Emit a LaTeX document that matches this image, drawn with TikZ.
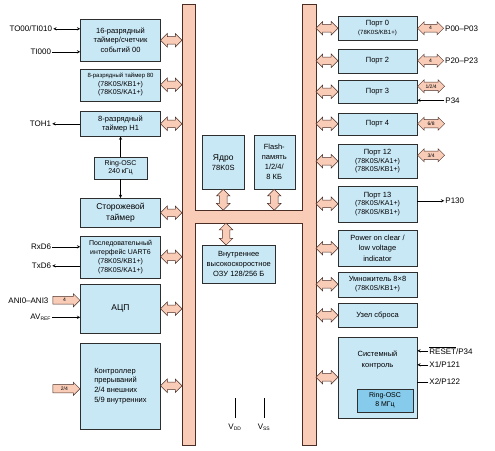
\documentclass[tikz,border=0pt]{standalone}
\usepackage{fontspec}
\setmainfont{Liberation Sans}
\usepackage{xcolor}
\usepackage{tikz}
\usetikzlibrary{shapes.arrows, arrows, positioning, calc}

\definecolor{boxblue}{HTML}{C9E8F6}
\definecolor{oscblue}{HTML}{86CBEB}
\definecolor{busrose}{HTML}{F9CCB7}
\definecolor{busedge}{HTML}{4A2E26}
\definecolor{edge}{HTML}{2E2E2E}

\newcommand{\fs}[2]{\fontsize{#1}{#2}\selectfont}

\begin{document}
\begin{tikzpicture}[
    x=1pt, y=-1pt,
    box/.style={rectangle, draw=edge, fill=boxblue, line width=0.5pt, minimum width=80pt, align=center, inner sep=1pt, font=\fs{7}{8.5}},
    port/.style={box, minimum width=79pt},
    bus/.style={rectangle, fill=busrose, inner sep=0pt},
    busarrow/.style={double arrow, draw=busedge, fill=busrose, line width=0.5pt, double arrow head extend=3pt, minimum height=21.5pt, inner xsep=0pt, inner ysep=3.5pt},
    fatarrow/.style={busarrow, double arrow head extend=2.5pt, inner ysep=2pt, minimum height=27pt, font=\fs{5}{5}},
    fatsingle/.style={single arrow, draw=busedge, fill=busrose, line width=0.5pt, single arrow head extend=2.5pt, minimum height=27pt, inner xsep=0pt, inner ysep=2pt, font=\fs{5}{5}},
    arrow/.style={->, >=stealth, line width=0.5pt},
    sig/.style={font=\fs{8}{9}, inner sep=1pt},
]
\useasboundingbox (0,0) rectangle (495,450);

% Bus
\node[bus, minimum width=13pt, minimum height=441pt] (lbus) at (188.5,224.5) {};
\node[bus, minimum width=14pt, minimum height=441pt] (rbus) at (309,224.5) {};
\node[bus, minimum width=108pt, minimum height=13pt] (hbus) at (248.5,216.5) {};
\draw[busedge, line width=0.6pt] (lbus.north west) -- (lbus.north east) -- (lbus.east |- hbus.north)
    -- (rbus.west |- hbus.north) -- (rbus.north west) -- (rbus.north east) -- (rbus.south east)
    -- (rbus.south west) -- (rbus.west |- hbus.south) -- (lbus.east |- hbus.south)
    -- (lbus.south east) -- (lbus.south west) -- cycle;

% Left column
\node[box, minimum height=42pt, font=\fs{7.5}{9.5}, anchor=north] (t00) at (120.5,19) {16-разрядный\\таймер/счетчик\\событий 00};
\node[box, minimum height=32pt, below=7pt of t00] (t80) {{\fs{6}{8}8-разрядный таймер 80}\\(78K0S/KB1+)\\(78K0S/KA1+)};
\node[box, minimum height=25pt, font=\fs{7.5}{9.5}, below=10pt of t80] (th1) {8-разрядный\\таймер H1};
\node[box, minimum width=53pt, minimum height=22pt, below=20pt of th1] (rosc1) {Ring-OSC\\240 кГц};
\node[box, minimum height=29pt, font=\fs{8.5}{11}, below=19pt of rosc1] (wdt) {Сторожевой\\таймер};
\node[box, minimum height=42pt, font=\fs{7}{9}, below=8pt of wdt] (uart) {Последовательный\\интерфейс UART6\\(78K0S/KB1+)\\(78K0S/KA1+)};
\node[box, minimum height=49pt, font=\fs{8.5}{10}, below=6pt of uart] (adc) {АЦП};
\node[box, minimum height=86pt, font=\fs{7.5}{9.7}, align=left, below=9pt of adc] (intc) {Контроллер\\прерываний\\2/4 внешних\\5/9 внутренних};

% Core, Flash, RAM
\node[box, minimum width=42pt, minimum height=54pt, font=\fs{7.5}{10}, anchor=north west] (core) at (202,135) {{\fs{8.5}{10}Ядро}\\78K0S};
\node[box, minimum width=41pt, minimum height=54pt, font=\fs{7.5}{10}, right=9pt of core] (flash) {Flash-\\память\\1/2/4/\\8 КБ};
\node[box, minimum width=73pt, minimum height=38pt, font=\fs{7.5}{10}, anchor=north west] (ram) at (202,245) {Внутреннее\\высокоскоростное\\ОЗУ 128/256 Б};

% Right column
\node[port, minimum height=24pt, font=\fs{7.5}{9}, anchor=north] (p0) at (377.5,16) {Порт 0\\{\fs{6}{7}(78K0S/KB1+)}};
\node[port, minimum height=24pt, font=\fs{7.5}{9}, below=8pt of p0] (p2) {Порт 2};
\node[port, minimum height=23pt, font=\fs{7.5}{9}, below=7pt of p2] (p3) {Порт 3};
\node[port, minimum height=22pt, font=\fs{7.5}{9}, below=9pt of p3] (p4) {Порт 4};
\node[port, minimum height=34pt, below=9pt of p4] (p12) {{\fs{7.5}{9}Порт 12}\\(78K0S/KA1+)\\(78K0S/KB1+)};
\node[port, minimum height=36pt, below=7pt of p12] (p13) {{\fs{7.5}{9}Порт 13}\\(78K0S/KA1+)\\(78K0S/KB1+)};
\node[port, minimum height=36pt, font=\fs{7.5}{10.5}, below=8pt of p13] (poc) {Power on clear /\\low voltage\\indicator};
\node[port, minimum height=25pt, font=\fs{7}{8.5}, below=5pt of poc] (mul) {{\fs{7.5}{9}Умножитель 8×8}\\(78K0S/KB1+)};
\node[port, minimum height=24pt, font=\fs{7.5}{9}, below=6pt of mul] (rst) {Узел сброса};
\node[port, minimum height=81pt, below=9pt of rst] (sys) {};
\node[font=\fs{7.5}{11}, align=center] (systext) at ($(sys.north)+(0,23)$) {Системный\\контроль};
\node[box, fill=oscblue, minimum width=56pt, minimum height=23pt, anchor=south east] (osc8) at ($(sys.south east)+(-4,-6)$) {Ring-OSC\\8 МГц};

% Bus arrows
\foreach \n in {t00,t80,th1,wdt,uart,adc,intc}
    \node[busarrow] at ($(\n.east)!0.5!(\n.east -| lbus.west)$) {};
\foreach \n in {p0,p2,p3,p4,p12,p13,poc,mul,rst,sys}
    \node[busarrow, minimum height=22pt] at ($(\n.west)!0.5!(\n.west -| rbus.east)$) {};
\node[busarrow, rotate=90, minimum height=21pt] at ($(core.south)!0.5!(core.south |- hbus.north)$) {};
\node[busarrow, rotate=90, minimum height=21pt] at ($(flash.south)!0.5!(flash.south |- hbus.north)$) {};
\coordinate (ramtop) at ($(ram.north west)+(24,0)$);
\node[busarrow, rotate=90, minimum height=22pt] at ($(ramtop)!0.5!(ramtop |- hbus.south)$) {};

% Ring-OSC links
\draw[arrow] (rosc1.north) -- (rosc1.north |- th1.south);
\draw[arrow] (rosc1.south) -- (rosc1.south |- wdt.north);

% Left signals
\node[sig, anchor=east] (to00) at ($(t00.west)+(-27,-11.5)$) {TO00/TI010};
\node[sig, anchor=east] (ti000) at ($(t00.west)+(-28,11.5)$) {TI000};
\node[sig, anchor=east] (toh1) at ($(th1.west)+(-28,0)$) {TOH1};
\node[sig, anchor=east] (rxd6) at ($(uart.west)+(-28,-10)$) {RxD6};
\node[sig, anchor=east] (txd6) at ($(uart.west)+(-28,9)$) {TxD6};
\node[fatsingle, anchor=east] (anifat) at ($(adc.west)+(0,-8.5)$) {4};
\node[sig, anchor=east] (ani) at ($(anifat.west)+(-3,0)$) {ANI0–ANI3};
\node[sig, anchor=east] (avref) at ($(adc.west)+(-28,8.5)$) {AV\textsubscript{\fs{5}{5}REF}};
\node[fatsingle, anchor=east] (intfat) at ($(intc.west)+(0,3)$) {2/4};
\draw[arrow, <->] (to00.east) -- (to00.east -| t00.west);
\draw[arrow] (ti000.east) -- (ti000.east -| t00.west);
\draw[arrow] (toh1.east -| th1.west) -- (toh1.east);
\draw[arrow] (rxd6.east) -- (rxd6.east -| uart.west);
\draw[arrow] (txd6.east -| uart.west) -- (txd6.east);
\draw[arrow] (avref.east) -- (avref.east -| adc.west);

% Right signals
\node[fatarrow, minimum height=26pt, anchor=west] (p0fat) at (p0.east) {4};
\node[sig, anchor=west] (p00) at (p0fat.east) {P00–P03};
\node[fatarrow, minimum height=26pt, anchor=west] (p2fat) at (p2.east) {4};
\node[sig, anchor=west] (p20) at (p2fat.east) {P20–P23};
\node[fatarrow, minimum height=27pt, anchor=west] (p3fat) at ($(p3.east)+(0,-5.5)$) {1/2/4};
\node[sig, anchor=west] (p34) at ($(p3.east)+(27,8.5)$) {P34};
\node[fatarrow, minimum height=27pt, anchor=west] (p4fat) at (p4.east) {6/8};
\node[fatarrow, minimum height=27pt, anchor=west] (p12fat) at ($(p12.east)+(0,-6)$) {3/4};
\node[sig, anchor=west] (p130) at ($(p13.east)+(27,-3)$) {P130};
\node[sig, anchor=west] (reset) at ($(sys.east)+(11,-26.5)$) {$\overline{\mbox{RESET}}$/P34};
\node[sig, anchor=west] (x1) at ($(sys.east)+(11,-12.5)$) {X1/P121};
\node[sig, anchor=west] (x2) at ($(sys.east)+(11,4.5)$) {X2/P122};
\draw[arrow] (p34.west) -- (p34.west -| p3.east);
\draw[arrow] (p130.west -| p13.east) -- (p130.west);
\draw[arrow] (reset.west) -- (reset.west -| sys.east);
\draw[arrow] (x1.west) -- (x1.west -| sys.east);
\draw[line width=0.5pt] (x2.west) -- (x2.west -| sys.east);

% Power pins
\coordinate (vddpin) at (235,398);
\coordinate (vsspin) at (264,398);
\draw[line width=0.5pt] (vddpin) -- ++(0,20) node[sig, below=5pt] (vdd) {V\textsubscript{\fs{5}{5}DD}};
\draw[line width=0.5pt] (vsspin) -- ++(0,20) node[sig, below=5pt] (vss) {V\textsubscript{\fs{5}{5}SS}};

\end{tikzpicture}
\end{document}
